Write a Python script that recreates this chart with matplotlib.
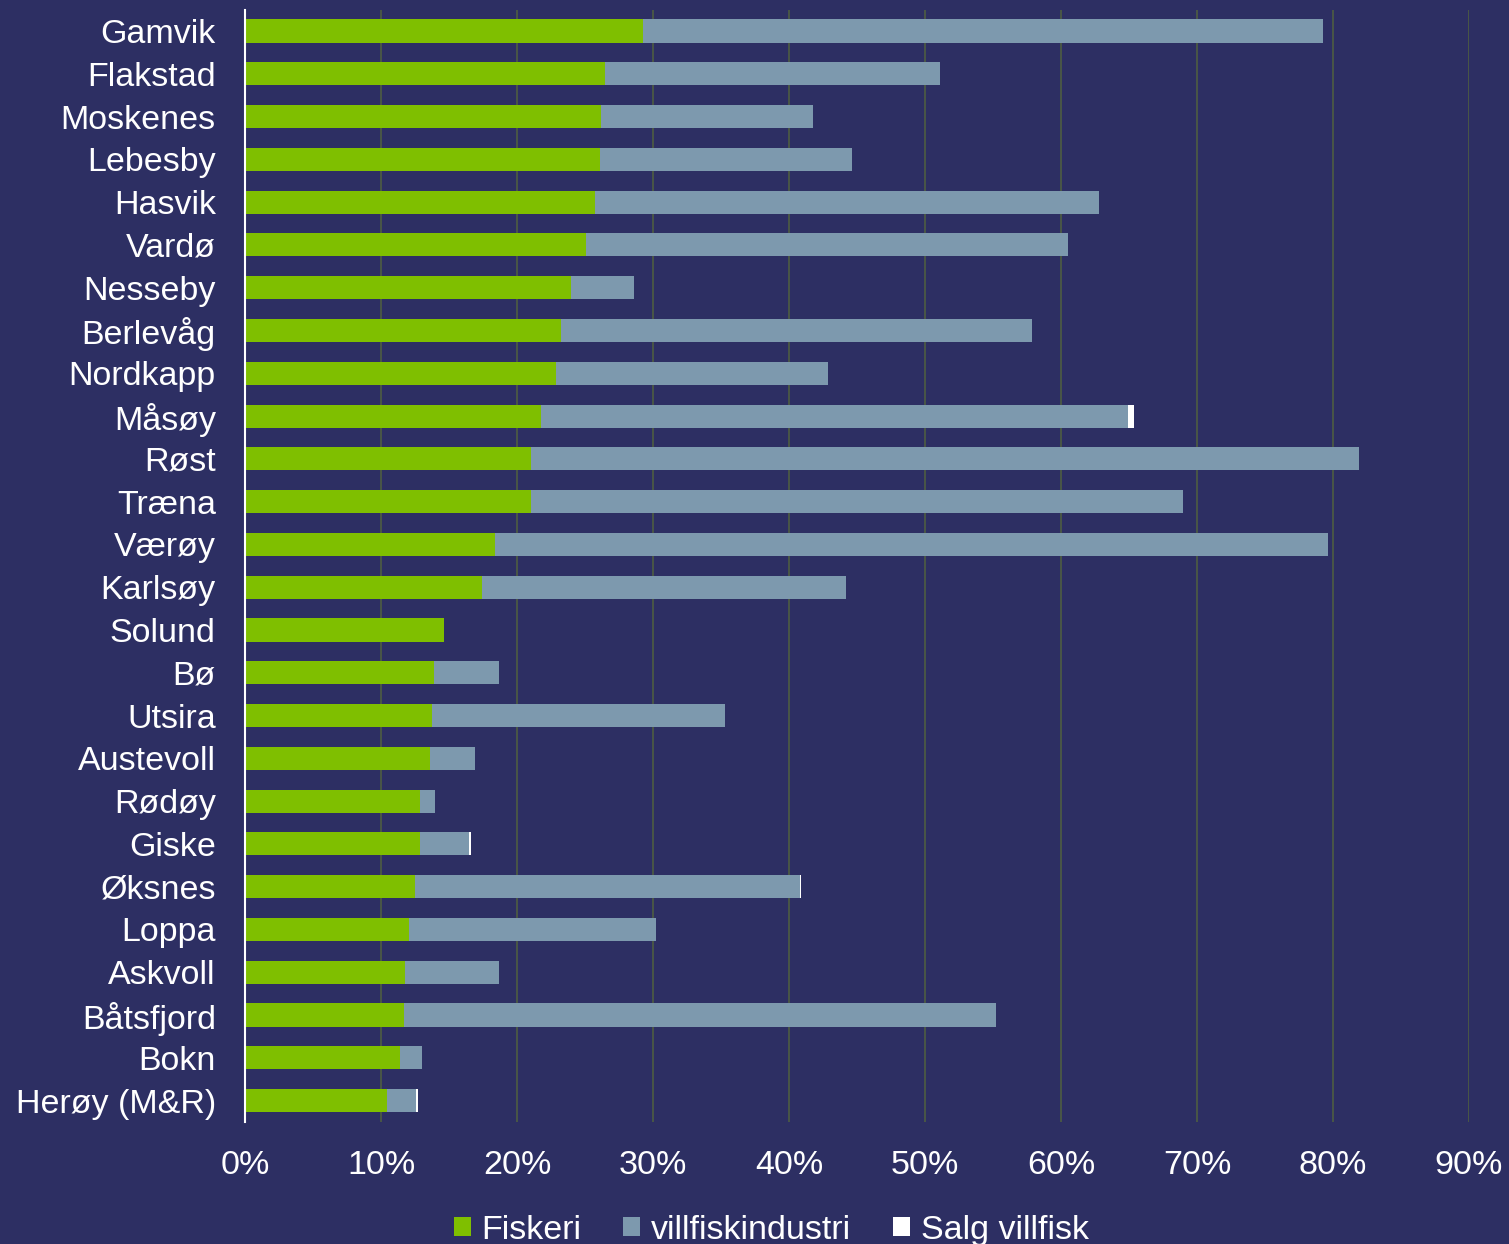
import matplotlib
matplotlib.use("Agg")
import matplotlib.pyplot as plt
import numpy as np
from matplotlib.ticker import PercentFormatter

categories = ["Gamvik", "Flakstad", "Moskenes", "Lebesby", "Hasvik", "Vardø", "Nesseby",
              "Berlevåg", "Nordkapp", "Måsøy", "Røst", "Træna", "Værøy", "Karlsøy",
              "Solund", "Bø", "Utsira", "Austevoll", "Rødøy", "Giske", "Øksnes",
              "Loppa", "Askvoll", "Båtsfjord", "Bokn", "Herøy (M&R)"]
fiskeri = [29.3, 26.5, 26.2, 26.1, 25.7, 25.1, 24.0, 23.2, 22.9, 21.8, 21.0, 21.0, 18.4,
           17.4, 14.6, 13.9, 13.75, 13.6, 12.9, 12.85, 12.5, 12.05, 11.8, 11.7, 11.4, 10.45]
totals_villfisk = [79.3, 51.1, 41.8, 44.6, 62.8, 60.5, 28.6, 57.9, 42.9, 64.9, 81.9, 69.0,
                   79.6, 44.2, 14.6, 18.7, 35.3, 16.9, 14.0, 16.5, 40.8, 30.2, 18.7, 55.2,
                   13.0, 12.6]
villfiskindustri = [t - f for t, f in zip(totals_villfisk, fiskeri)]
salg_villfisk = [0, 0, 0, 0, 0, 0, 0, 0, 0, 0.5, 0, 0, 0, 0, 0, 0, 0, 0, 0, 0.1, 0.07,
                 0, 0, 0, 0, 0.1]
xticks = [0, 10, 20, 30, 40, 50, 60, 70, 80, 90]

bg = "#2d2f63"
green = "#7fbf00"
grey = "#7d99ae"
white = "#ffffff"
gridc = "#4b5a44"
fs = 24.5

plt.rcParams["font.family"] = ["Liberation Sans", "DejaVu Sans"]
fig = plt.figure(figsize=(15.09, 12.44), dpi=100, facecolor=bg)
ax = fig.add_axes([245/1509, 1 - 1122/1244, (1469-245)/1509, (1122-9.6)/1244])
ax.set_facecolor(bg)

y = np.arange(len(categories))
h = 0.54
ax.barh(y, fiskeri, height=h, color=green, label="Fiskeri", zorder=3)
ax.barh(y, villfiskindustri, left=fiskeri, height=h, color=grey, label="villfiskindustri", zorder=3)
left2 = [a + b for a, b in zip(fiskeri, villfiskindustri)]
ax.barh(y, salg_villfisk, left=left2, height=h, color=white, label="Salg villfisk", zorder=3)

ax.set_ylim(len(categories) - 0.5, -0.5)
ax.set_yticks(y)
ax.set_yticklabels(categories, fontsize=fs, color="white")
ax.set_xlim(0, 90)
ax.set_xticks(xticks)
ax.xaxis.set_major_formatter(PercentFormatter(decimals=0))
ax.tick_params(axis="x", labelsize=fs, labelcolor="white", length=0, pad=20)
ax.tick_params(axis="y", length=0, pad=21)
ax.grid(axis="x", color=gridc, linewidth=1.3, zorder=0)
for s in ["top", "right", "bottom"]:
    ax.spines[s].set_visible(False)
ax.spines["left"].set_color("white")
ax.spines["left"].set_linewidth(1.5)
ax.spines["left"].set_zorder(4)

leg = fig.legend(loc="lower center", bbox_to_anchor=(0.511, -0.026), ncol=3, frameon=False,
                 fontsize=fs, labelcolor="white", handlelength=0.5, handleheight=0.5,
                 handletextpad=0.3, columnspacing=1.25)

fig.savefig("out.png", dpi=100, facecolor=bg)
